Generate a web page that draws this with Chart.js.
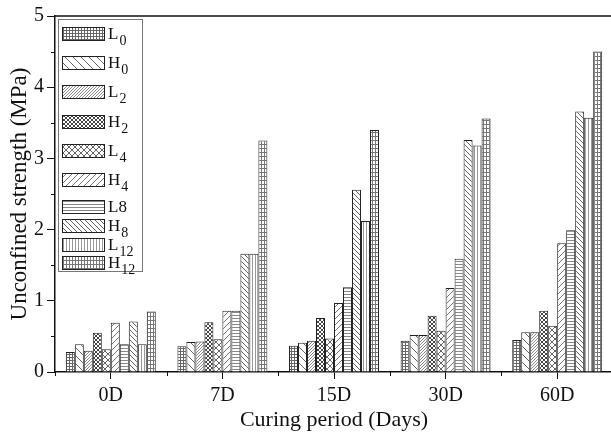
<!DOCTYPE html>
<html>
<head>
<meta charset="utf-8">
<script src="https://cdn.jsdelivr.net/npm/chart.js@4.4.1/dist/chart.umd.min.js"></script>
<style>
html, body { margin: 0; padding: 0; background: #fff; overflow: hidden; }
</style>
</head>
<body>
<canvas id="strength_chart" width="614" height="433"></canvas>
<script>
// Unconfined strength (MPa) by curing period
var periods = ['0D', '7D', '15D', '30D', '60D'];
var seriesNames = ['L0', 'H0', 'L2', 'H2', 'L4', 'H4', 'L8', 'H8', 'L12', 'H12'];
// part of each name drawn as a subscript in the legend (L8 is printed plain)
var seriesSubs = ['0', '0', '2', '2', '4', '4', '', '8', '12', '12'];
var yTicks = [0, 1, 2, 3, 4, 5];

var L0  = [0.28, 0.36, 0.37, 0.44, 0.45];
var H0  = [0.39, 0.42, 0.41, 0.52, 0.56];
var L2  = [0.30, 0.43, 0.44, 0.52, 0.56];
var H2  = [0.55, 0.70, 0.76, 0.79, 0.86];
var L4  = [0.32, 0.46, 0.47, 0.58, 0.65];
var H4  = [0.69, 0.86, 0.97, 1.18, 1.81];
var L8  = [0.39, 0.86, 1.19, 1.59, 1.99];
var H8  = [0.71, 1.66, 2.56, 3.26, 3.66];
var L12 = [0.39, 1.66, 2.12, 3.18, 3.57];
var H12 = [0.85, 3.25, 3.40, 3.56, 4.50];

var seriesValues = [L0, H0, L2, H2, L4, H4, L8, H8, L12, H12];

var canvas = document.getElementById('strength_chart');
var ctx = canvas.getContext('2d');

// small tiles used as hatch fills
var tile = function(w, h, color, draw){
  var c = document.createElement('canvas');
  c.width = w; c.height = h;
  var g = c.getContext('2d');
  g.fillStyle = '#fff';
  g.fillRect(0, 0, w, h);
  g.fillStyle = color;
  draw(g, w, h);
  return ctx.createPattern(c, 'repeat');
};
var grid = function(w, h, color){
  return tile(w, h, color, function(g){ g.fillRect(0, 0, w, 1); g.fillRect(0, 0, 1, h); });
};
var back = function(s, color){
  return tile(s, s, color, function(g){ for (var i = 0; i < s; i++) g.fillRect(i, i, 1, 1); });
};
var fwd = function(s, color){
  return tile(s, s, color, function(g){ for (var i = 0; i < s; i++) g.fillRect(i, s - 1 - i, 1, 1); });
};
var cross = function(s, color){
  return tile(s, s, color, function(g){
    for (var i = 0; i < s; i++) { g.fillRect(i, i, 1, 1); g.fillRect(i, s - 1 - i, 1, 1); }
  });
};
var horiz = function(s, color){
  return tile(1, s, color, function(g){ g.fillRect(0, 0, 1, 1); });
};
var vert = function(s, color){
  return tile(s, 1, color, function(g){ g.fillRect(0, 0, 1, 1); });
};

var fills = [
  grid(3, 3, '#666'),
  back(8, '#666'),
  fwd(3, '#8a8a8a'),
  cross(4, '#444'),
  cross(6, '#666'),
  fwd(6, '#777'),
  horiz(3, '#888'),
  back(5, '#666'),
  vert(3, '#999'),
  grid(3, 4, '#777')
];

var datasets = [];
for (var i = 0; i < seriesNames.length; i++) {
  datasets.push({
    label: seriesNames[i],
    data: seriesValues[i],
    backgroundColor: fills[i],
    borderColor: '#222',
    borderWidth: 1,
    barPercentage: 1,
    categoryPercentage: 0.806
  });
}

var serif = "'Liberation Serif', 'Times New Roman', serif";

// short ticks between the labelled ones, and the frame line on top
var minorTicks = {
  id: 'minorTicks',
  afterDraw: function(chart){
    var c = chart.ctx, a = chart.chartArea;
    var x = chart.scales.x, y = chart.scales.y;
    c.save();
    c.strokeStyle = '#111';
    c.lineWidth = 1;
    c.beginPath();
    for (var v = 0.5; v < 5; v += 1) {
      var py = Math.round(y.getPixelForValue(v)) + 0.5;
      c.moveTo(a.left - 4, py); c.lineTo(a.left, py);
    }
    for (var k = 0; k <= periods.length; k++) {
      var px = Math.round(x.getPixelForValue(k - 0.5)) + 0.5;
      c.moveTo(px, a.bottom); c.lineTo(px, a.bottom + 4);
    }
    c.stroke();
    c.lineWidth = 1.5;
    c.beginPath();
    c.moveTo(a.left, a.top); c.lineTo(a.right + 2, a.top);
    c.stroke();
    c.restore();
  }
};

// boxed legend with hatch swatches and subscripted names
var hatchLegend = {
  id: 'hatchLegend',
  afterDatasetsDraw: function(chart, args, opts){
    var c = chart.ctx;
    c.save();
    c.fillStyle = '#fff';
    c.fillRect(opts.left, opts.top, opts.width, opts.height);
    c.strokeStyle = '#777';
    c.lineWidth = 1;
    c.strokeRect(opts.left + 0.5, opts.top + 0.5, opts.width, opts.height);
    chart.data.datasets.forEach(function(ds, i){
      var cy = opts.rows[i];
      c.fillStyle = ds.backgroundColor;
      c.fillRect(opts.left + 4, cy - 7, 43, 14);
      c.strokeStyle = '#222';
      c.strokeRect(opts.left + 4.5, cy - 6.5, 42, 13);
      c.fillStyle = '#111';
      c.textBaseline = 'alphabetic';
      var sub = seriesSubs[i];
      var main = sub ? ds.label.slice(0, ds.label.length - sub.length) : ds.label;
      c.font = '17px ' + serif;
      var tx = opts.left + 50;
      c.fillText(main, tx, cy + 5);
      if (sub) {
        var w = c.measureText(main).width;
        c.font = '14px ' + serif;
        c.fillText(sub, tx + w + 1, cy + 11);
      }
    });
    c.restore();
  }
};

new Chart(ctx, {
  type: 'bar',
  data: { labels: periods, datasets: datasets },
  plugins: [minorTicks, hatchLegend],
  options: {
    responsive: false,
    animation: false,
    layout: { padding: { top: 16, right: 1, left: 0, bottom: 0 } },
    plugins: {
      legend: { display: false },
      tooltip: { enabled: false },
      hatchLegend: {
        left: 58, top: 19, width: 84, height: 252,
        rows: [34, 63, 92, 122, 151, 180, 207, 226, 245, 263]
      }
    },
    scales: {
      x: {
        afterFit: function(s){ s.height = 61; },
        grid: { display: true, drawOnChartArea: false, offset: false, tickLength: 7, color: '#111' },
        border: { display: true, color: '#111', width: 1.5 },
        ticks: { color: '#111', padding: 5, font: { family: serif, size: 20 } },
        title: {
          display: true, text: 'Curing period (Days)', color: '#111',
          font: { family: serif, size: 22 }, padding: { top: 0, bottom: 0 }
        }
      },
      y: {
        min: 0, max: 5,
        afterFit: function(s){ s.width = 55; },
        afterBuildTicks: function(s){ s.ticks = yTicks.map(function(v){ return { value: v }; }); },
        grid: { display: true, drawOnChartArea: false, tickLength: 8, color: '#111' },
        border: { display: true, color: '#111', width: 1.5 },
        ticks: { color: '#111', padding: 3, font: { family: serif, size: 20 } },
        title: {
          display: true, text: 'Unconfined strength (MPa)', color: '#111',
          font: { family: serif, size: 23 }, padding: { top: 6, bottom: 0 }
        }
      }
    }
  }
});
</script>
</body>
</html>
